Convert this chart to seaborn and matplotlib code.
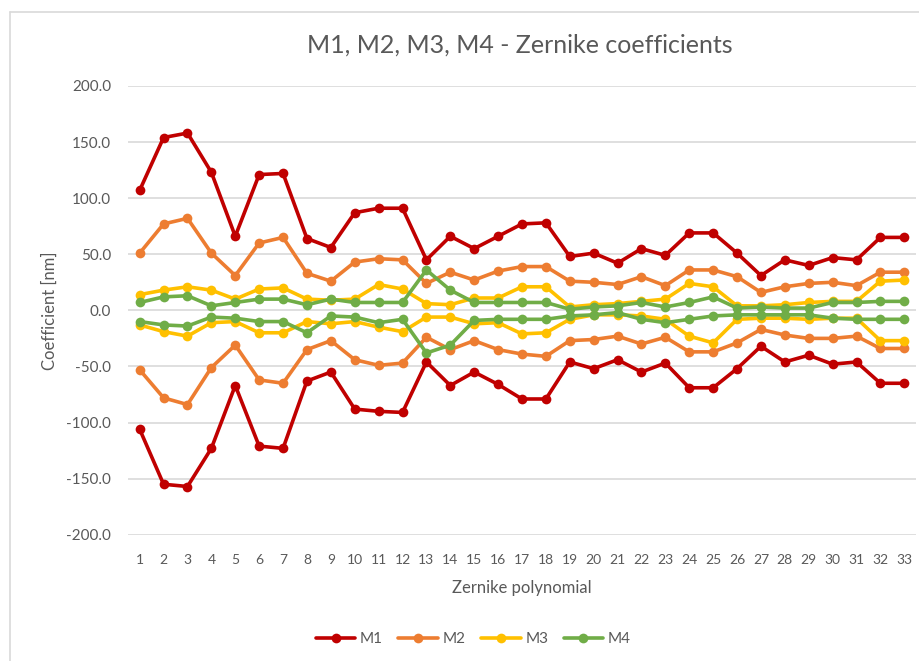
import numpy as np
import pandas as pd
import seaborn as sns
import matplotlib.pyplot as plt
from matplotlib.lines import Line2D

# Zernike polynomial index
zernike = list(range(1, 34))

# Upper / lower coefficient envelopes per mirror [nm]
m1_upper = [107, 154, 158, 123, 66, 121, 122, 64, 56, 87, 91, 91, 45, 66, 55, 66, 77, 78,
            48, 51, 42, 55, 49, 69, 69, 51, 31, 45, 40, 47, 45, 65, 65]
m1_lower = [-106, -155, -157, -123, -67, -121, -123, -63, -55, -88, -90, -91, -46, -67, -55, -66, -79, -79,
            -46, -52, -44, -55, -47, -69, -69, -52, -32, -46, -40, -48, -46, -65, -65]
m2_upper = [51, 77, 82, 51, 31, 60, 65, 33, 26, 43, 46, 45, 24, 34, 27, 35, 39, 39,
            26, 25, 23, 30, 22, 36, 36, 30, 16, 21, 24, 25, 22, 34, 34]
m2_lower = [-53, -78, -84, -51, -31, -62, -65, -35, -27, -44, -49, -47, -24, -35, -27, -35, -39, -41,
            -27, -26, -23, -30, -24, -37, -37, -29, -17, -22, -25, -25, -23, -34, -34]
m3_upper = [14, 18, 21, 18, 10, 19, 20, 10, 9, 10, 23, 19, 6, 5, 11, 11, 21, 21,
            3, 5, 6, 8, 10, 24, 21, 4, 4, 5, 7, 8, 8, 26, 27]
m3_lower = [-13, -19, -23, -11, -10, -20, -20, -10, -12, -10, -15, -19, -6, -6, -12, -11, -21, -20,
            -8, -4, -4, -5, -8, -23, -29, -8, -7, -7, -8, -7, -7, -27, -27]
m4_upper = [7, 12, 13, 4, 7, 10, 10, 5, 10, 7, 7, 7, 36, 18, 7, 7, 7, 7,
            1, 3, 4, 7, 3, 7, 12, 2, 3, 2, 2, 7, 7, 8, 8]
m4_lower = [-10, -13, -14, -6, -7, -10, -10, -20, -5, -6, -11, -8, -38, -31, -9, -8, -8, -8,
            -5, -4, -2, -8, -11, -8, -5, -4, -4, -4, -4, -7, -8, -8, -8]

series = ["M1", "M2", "M3", "M4"]
colors = ["#C00000", "#ED7D31", "#FFC000", "#70AD47"]

envelopes = {
    "M1": (m1_upper, m1_lower),
    "M2": (m2_upper, m2_lower),
    "M3": (m3_upper, m3_lower),
    "M4": (m4_upper, m4_lower),
}

rows = []
for name in series:
    up, lo = envelopes[name]
    for bound, vals in (("upper", up), ("lower", lo)):
        for z, v in zip(zernike, vals):
            rows.append({"Zernike": z, "Coefficient": v, "Mirror": name, "Bound": bound})
df = pd.DataFrame(rows)

sns.set_theme(style="white")
plt.rcParams["font.family"] = ["Lato", "DejaVu Sans"]
text_gray = "#595959"

fig = plt.figure(figsize=(9.19, 6.61), dpi=100)
ax = fig.add_axes([0.139, 0.191, 0.858, 0.679])

sns.lineplot(data=df, x="Zernike", y="Coefficient", hue="Mirror", units="Bound",
             estimator=None, palette=colors, hue_order=series, marker="o",
             markersize=7, markeredgewidth=0, linewidth=2.6, legend=False, ax=ax)

ax.set_xlim(0.5, 33.5)
ax.set_ylim(-200, 200)
ax.set_xticks(zernike)
ax.set_xticklabels([str(z) for z in zernike], fontsize=10, color=text_gray)
ax.set_yticks(np.arange(-200, 201, 50))
ax.set_yticklabels([f"{v:.1f}" for v in np.arange(-200, 201, 50)], fontsize=11, color=text_gray)
ax.tick_params(axis="both", length=0)
ax.tick_params(axis="x", pad=14)
ax.tick_params(axis="y", pad=12)
ax.yaxis.grid(True, color="#D9D9D9", linewidth=1.2)
ax.set_axisbelow(True)
for s in ax.spines.values():
    s.set_visible(False)

ax.set_xlabel("Zernike polynomial", fontsize=12, color=text_gray, labelpad=10)
ax.set_ylabel("Coefficient [nm]", fontsize=12, color=text_gray, labelpad=6)
fig.text(0.566, 0.932, "M1, M2, M3, M4 - Zernike coefficients", fontsize=18,
         color=text_gray, ha="center", va="center")

handles = [Line2D([0], [0], color=c, lw=2.6, marker="o", markersize=7, markeredgewidth=0)
           for c in colors]
fig.legend(handles, series, loc="center", bbox_to_anchor=(0.515, 0.033), ncol=4,
           frameon=False, fontsize=11, labelcolor=text_gray, handlelength=2.6,
           columnspacing=1.0, handletextpad=0.3)

# chart frame
fig.add_artist(Line2D([0.011, 0.011], [0, 0.982], color="#D9D9D9", lw=1.2,
                      transform=fig.transFigure))
fig.add_artist(Line2D([0.011, 1], [0.982, 0.982], color="#D9D9D9", lw=1.2,
                      transform=fig.transFigure))

fig.savefig("out.png", dpi=100)
